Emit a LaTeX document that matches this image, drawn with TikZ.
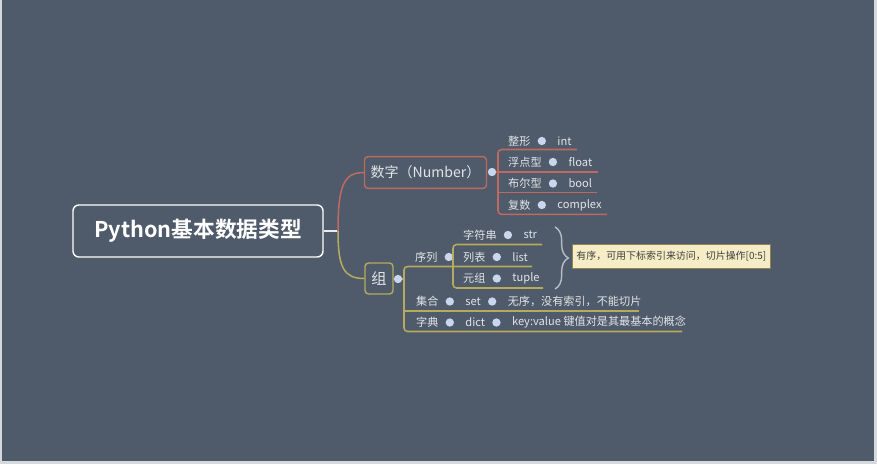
\documentclass[tikz,border=0pt]{standalone}
\usepackage{fontspec}
\setmainfont{Noto Sans CJK SC}[BoldFont={Noto Sans CJK SC Bold}]
\usetikzlibrary{positioning}
\usetikzlibrary{decorations.pathreplacing}
\usepackage{xcolor}
\definecolor{bgcol}{HTML}{4F5B6A}
\definecolor{framecol}{HTML}{D5D9DE}
\definecolor{numred}{HTML}{BD6A60}
\definecolor{zuyel}{HTML}{B5AA5E}
\definecolor{lbltxt}{HTML}{E2E4E8}
\definecolor{dotblue}{HTML}{C8D6EE}
\definecolor{notebg}{HTML}{F6EDC6}
\definecolor{notebd}{HTML}{8E8452}
\definecolor{notetx}{HTML}{3E3E3E}
\definecolor{bracecol}{HTML}{B8BCC2}

\begin{document}
\begin{tikzpicture}[x=0.03cm, y=-0.03cm,
  root/.style = {draw=white, line width=1.2pt, rounded corners=5pt, minimum width=7.5cm, minimum height=1.56cm, text=white, font=\fontsize{18.5}{22}\selectfont\bfseries},
  numbox/.style = {draw=numred, line width=1.2pt, rounded corners=3pt, minimum width=3.66cm, minimum height=0.95cm, text=lbltxt, font=\fontsize{12}{14}\selectfont},
  zubox/.style = {draw=zuyel, line width=1.2pt, rounded corners=3pt, minimum width=0.84cm, minimum height=0.93cm, text=lbltxt, font=\fontsize{13}{15}\selectfont},
  lbl/.style = {text=lbltxt, inner xsep=0pt, inner ysep=1pt, font=\fontsize{9.5}{11}\selectfont},
  dot/.style = {circle, fill=dotblue, inner sep=0pt, minimum size=0.25cm},
  redln/.style = {draw=numred, line width=1.3pt},
  yelln/.style = {draw=zuyel, line width=1.3pt},
  note/.style = {draw=notebd, fill=notebg, text=notetx, line width=0.8pt, minimum width=5.88cm, minimum height=0.72cm, font=\fontsize{8.5}{10}\selectfont},
  node distance=0.2cm]
  % background
  \fill[framecol] (0,0) rectangle (877,464);
  \fill[bgcol] (2,0) rectangle (874,461);
  \useasboundingbox (0,0) rectangle (877,464);

  % main nodes
  \node[root] (py) at (198,231) {Python基本数据类型};
  \node[numbox] (num) at (425.5,172.5) {数字（Number）};
  \node[zubox] (zu) at (379,278.5) {组};
  \node[dot] (numd) at (492,172) {};
  \node[dot] (zud) at (398,279) {};
  \coordinate (fork) at (338,231);
  \draw[draw=white!85!gray, line width=1.3pt] (py.east) -- (fork);
  \draw[redln] (fork) .. controls (338,185) and (344,172.5) .. (num.west);
  \draw[yelln] (fork) .. controls (338,268) and (344,278.5) .. (zu.west);

  % Number children
  \node[lbl, anchor=west] (zx) at (508,141) {整形};
  \node[dot, right=0.2cm of zx] (zxd) {};
  \node[lbl, right=0.33cm of zxd] (int) {int};
  \node[lbl, anchor=west] (fd) at (508,162) {浮点型};
  \node[dot, right=0.2cm of fd] (fdd) {};
  \node[lbl, right=0.33cm of fdd] (float) {float};
  \node[lbl, anchor=west] (be) at (508,183.5) {布尔型};
  \node[dot, right=0.2cm of be] (bed) {};
  \node[lbl, right=0.33cm of bed] (bool) {bool};
  \node[lbl, anchor=west] (fs) at (508,205) {复数};
  \node[dot, right=0.2cm of fs] (fsd) {};
  \node[lbl, right=0.33cm of fsd] (cplx) {complex};

  \coordinate (nt) at (498,149.5);
  \coordinate (nb) at (498,214.3);
  \coordinate (n1) at (577,149.5);
  \coordinate (n2) at (598,172);
  \coordinate (n3) at (597,192.7);
  \coordinate (n4) at (607,214.3);
  \draw[redln, rounded corners=3pt] (n1) -- (nt) -- (nb) -- (n4);
  \draw[redln] (numd) -- (numd -| nt);
  \draw[redln] (nt |- n2) -- (n2);
  \draw[redln] (nt |- n3) -- (n3);

  % group children
  \node[lbl, anchor=west] (xl) at (415,257) {序列};
  \node[dot, right=0.2cm of xl] (xld) {};
  \node[lbl, anchor=west] (zfc) at (463,235) {字符串};
  \node[dot, right=0.2cm of zfc] (zfcd) {};
  \node[lbl, right=0.33cm of zfcd] (str) {str};
  \node[lbl, anchor=west] (lb) at (463,257) {列表};
  \node[dot, right=0.2cm of lb] (lbd) {};
  \node[lbl, right=0.33cm of lbd] (list) {list};
  \node[lbl, anchor=west] (yz) at (463,278.5) {元组};
  \node[dot, right=0.2cm of yz] (yzd) {};
  \node[lbl, right=0.33cm of yzd] (tuple) {tuple};
  \node[lbl, anchor=west] (jh) at (416,301.5) {集合};
  \node[dot, right=0.2cm of jh] (jhd) {};
  \node[lbl, right=0.33cm of jhd] (set) {set};
  \node[dot, right=0.2cm of set] (setd) {};
  \node[lbl, right=0.33cm of setd] (setnote) {无序，没有索引，不能切片};
  \node[lbl, anchor=west] (zd) at (416,322.5) {字典};
  \node[dot, right=0.2cm of zd] (zdd) {};
  \node[lbl, right=0.33cm of zdd] (dict) {dict};
  \node[dot, right=0.2cm of dict] (dictd) {};
  \node[lbl, right=0.33cm of dictd] (dictnote) {key:value 键值对是其最基本的概念};

  \coordinate (gt) at (404,266.5);
  \coordinate (gb) at (404,331.5);
  \coordinate (g1) at (532,266.5);
  \coordinate (g2) at (639,311);
  \coordinate (g3) at (682,331.5);
  \draw[yelln, rounded corners=3pt] (g1) -- (gt) -- (gb) -- (g3);
  \draw[yelln] (zud) -- (zud -| gt);
  \draw[yelln] (gt |- g2) -- (g2);

  \coordinate (st) at (453,244.5);
  \coordinate (sb) at (453,288);
  \coordinate (s1) at (542,244.5);
  \coordinate (s3) at (543,288);
  \draw[yelln, rounded corners=3pt] (s1) -- (st) -- (sb) -- (s3);
  \draw[yelln] (xld) -- (xld -| st);

  % brace and note
  \coordinate (bt) at (555,227);
  \coordinate (bb) at (555,289);
  \draw[bracecol, line width=1.2pt, decorate, decoration={brace, amplitude=0.4cm}] (bt) -- (bb);
  \node[note, anchor=west] (tip) at (572,256) {有序，可用下标索引来访问，切片操作[0:5]};
\end{tikzpicture}
\end{document}
